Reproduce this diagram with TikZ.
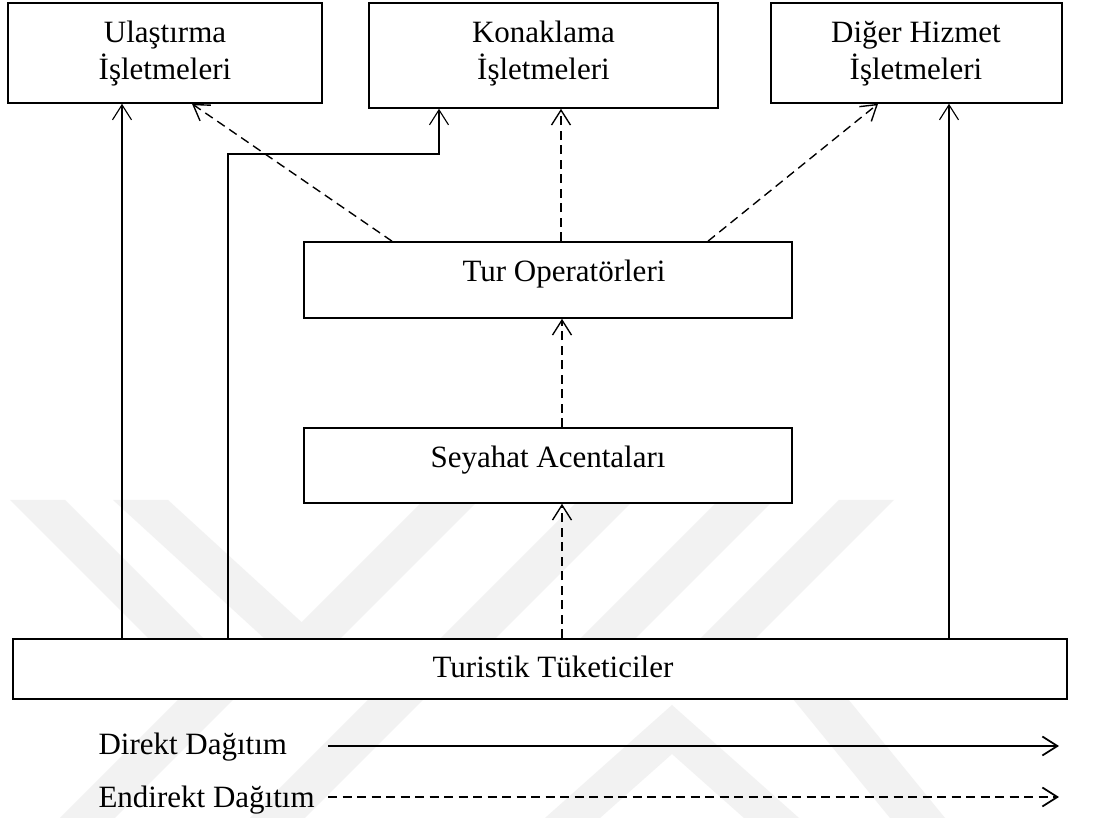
\documentclass[tikz,border=0pt]{standalone}
\usepackage{fontspec}
\setmainfont{Liberation Serif}
\usetikzlibrary{arrows.meta,fit}

\begin{document}
\begin{tikzpicture}[x=0.4pt,y=-0.4pt,
  box/.style={draw, line width=0.65pt, fill=white, inner sep=0pt},
  lbl/.style={anchor=base, inner sep=0pt, font=\fontsize{12.4}{14.8}\selectfont},
  barb/.style={-{Straight Barb[length=6pt,width=7.6pt]}},
  direct/.style={barb, line width=0.45pt},
  indirect/.style={barb, line width=0.55pt, dash pattern=on 3.6pt off 2.2pt},
  wmband/.style={fill=black!5, draw=none}
]
\useasboundingbox (0,0) rectangle (1096,818);
\fill[white] (0,0) rectangle (1096,818);

% faint background emblem
\begin{scope}
  \clip (0,500) rectangle (1096,818);
  % upper chevrons
  \fill[wmband] (10,500) -- (65,500) -- (204,639) -- (149,639) -- cycle;
  \fill[wmband] (113,500) -- (168,500) -- (320,639) -- (265,639) -- cycle;
  \foreach \s in {285,440,580,700}
    \fill[wmband] (\s,639) -- ({\s+55},639) -- ({\s+194},500) -- ({\s+139},500) -- cycle;
  % lower chevrons
  \fill[wmband] (60,818) -- (115,818) -- (234,699) -- (179,699) -- cycle;
  \fill[wmband] (250,818) -- (305,818) -- (424,699) -- (369,699) -- cycle;
  \fill[wmband] (545,818) -- (672,705) -- (799,818) -- (744,818) -- (672,754) -- (600,818) -- cycle;
  \fill[wmband] (793,699) -- (848,699) -- (945,818) -- (890,818) -- cycle;
\end{scope}

% boxes
\node[box, fit={(8,3) (322,103)}] (ula) {};
\node[box, fit={(369,3) (718,108)}] (kon) {};
\node[box, fit={(771,3) (1062,103)}] (dig) {};
\node[box, fit={(304,242) (792,318)}] (tur) {};
\node[box, fit={(304,428) (792,503)}] (sey) {};
\node[box, fit={(13,639) (1067,699)}] (tuk) {};

% box texts
\node[lbl] (ula1) at (165,43) {Ulaştırma};
\node[lbl] (ula2) at (165,80) {İşletmeleri};
\node[lbl] (kon1) at (543.5,43) {Konaklama};
\node[lbl] (kon2) at (543.5,80) {İşletmeleri};
\node[lbl] (dig1) at (916,43) {Diğer Hizmet};
\node[lbl] (dig2) at (916,80) {İşletmeleri};
\node[lbl] (turl) at (564,282) {Tur Operatörleri};
\node[lbl] (seyl) at (548,468) {Seyahat Acentaları};
\node[lbl] (tukl) at (553,678) {Turistik Tüketiciler};

% connector positions
\coordinate (xa) at (122,0);
\coordinate (xb) at (228,0);
\coordinate (kb) at (439,154);
\coordinate (xd) at (949,0);
\coordinate (xm) at (562,0);
\coordinate (xk) at (561,0);
\coordinate (xu1) at (392,0);
\coordinate (xu2) at (192,0);
\coordinate (xg1) at (708,0);
\coordinate (xg2) at (878,0);

% direct distribution
\draw[direct] (tuk.north -| xa) -- (ula.south -| xa);
\draw[direct] (tuk.north -| xb) |- (kb) -- (kon.south -| kb);
\draw[direct] (tuk.north -| xd) -- (dig.south -| xd);

% indirect distribution
\draw[indirect] (tuk.north -| xm) -- (sey.south -| xm);
\draw[indirect] (sey.north -| xm) -- (tur.south -| xm);
\draw[indirect] (tur.north -| xk) -- (kon.south -| xk);
\draw[indirect] (tur.north -| xu1) -- (ula.south -| xu2);
\draw[indirect] (tur.north -| xg1) -- (dig.south -| xg2);

% legend
\node[lbl, anchor=base west] (dd) at (98,755) {Direkt Dağıtım};
\node[lbl, anchor=base west] (ed) at (98,808) {Endirekt Dağıtım};
\coordinate (d0) at (328,746);
\coordinate (d1) at (1059,746);
\coordinate (e0) at (328,797);
\coordinate (e1) at (1059,797);
\draw[direct, line width=0.7pt] (d0) -- (d1);
\draw[indirect, line width=0.7pt] (e0) -- (e1);
\end{tikzpicture}
\end{document}
